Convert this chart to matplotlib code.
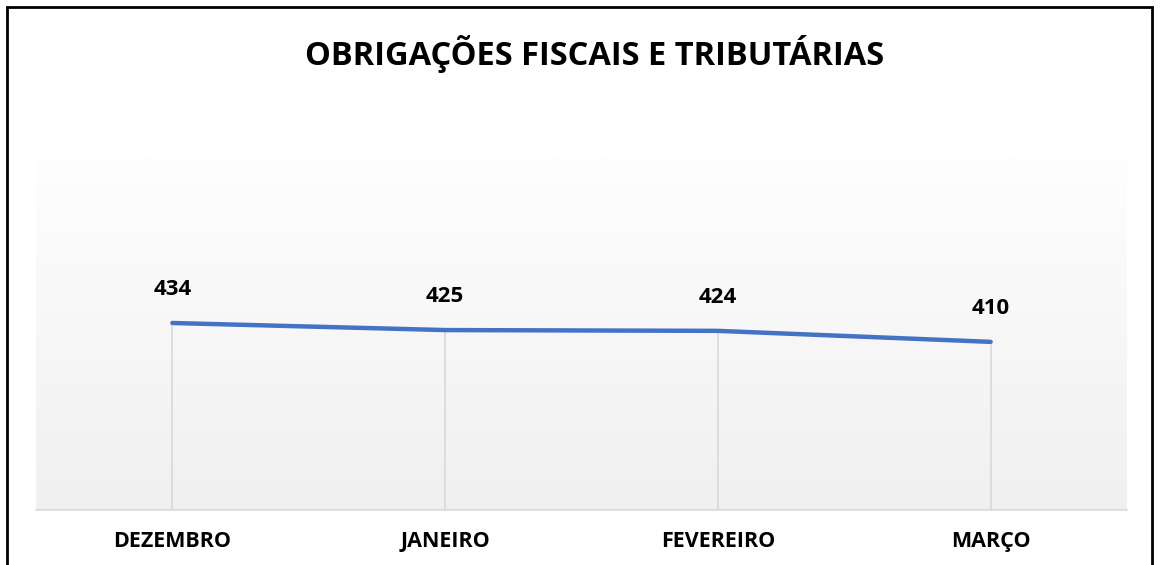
import numpy as np
import matplotlib.pyplot as plt
from matplotlib.patches import Rectangle

months = ['DEZEMBRO', 'JANEIRO', 'FEVEREIRO', 'MARÇO']
values = [434, 425, 424, 410]
title = 'OBRIGAÇÕES FISCAIS E TRIBUTÁRIAS'

W, H = 1161, 565
fig = plt.figure(figsize=(W / 100, H / 100), dpi=100)
fig.patch.set_facecolor('white')

# outer chart border (bottom edge is cut off in the reference)
fig.add_artist(Rectangle((7 / W, -0.05), (1152 - 7) / W, 1.05 - 7 / H,
                         transform=fig.transFigure, fill=False,
                         edgecolor='black', linewidth=2))

ax = fig.add_axes([36 / W, 1 - 510 / H, (1127 - 36) / W, (510 - 158) / H])
x = np.arange(len(months))
ax.set_xlim(-0.5, len(months) - 0.5)
ax.set_ylim(196, 644)

# vertical gradient background, white at top to light grey at bottom
grad = np.linspace(0, 1, 256).reshape(-1, 1)
ax.imshow(grad, extent=[-0.5, len(months) - 0.5, 196, 644], aspect='auto',
          cmap=plt.matplotlib.colors.LinearSegmentedColormap.from_list(
              'bg', ['#f0f0f0', '#fefefe']), origin='lower', zorder=0)

for xi, v in zip(x, values):
    ax.plot([xi, xi], [196, v], color='#d9d9d9', linewidth=1.2, zorder=1)

ax.plot(x, values, color='#4472c4', linewidth=3.2, solid_capstyle='round', zorder=3)

for xi, v in zip(x, values):
    ax.annotate(str(v), (xi, v), xytext=(0, 24), textcoords='offset points',
                ha='center', va='center', fontsize=16, fontweight='bold',
                family='Open Sans', color='black')

for s in ['top', 'left', 'right']:
    ax.spines[s].set_visible(False)
ax.spines['bottom'].set_color('#d9d9d9')
ax.spines['bottom'].set_linewidth(1.2)
ax.set_yticks([])
ax.set_xticks(x)
ax.set_xticklabels(months, fontsize=15.5, fontweight='bold', family='Open Sans')
ax.tick_params(axis='x', length=0, pad=15)

fig.text(595 / W, 1 - 54 / H, title, ha='center', va='center',
         fontsize=23.5, fontweight='bold', family='Open Sans')

fig.savefig('out.png', dpi=100)
